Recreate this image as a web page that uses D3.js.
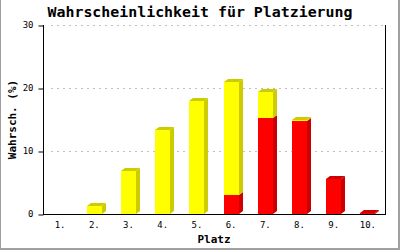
<!DOCTYPE html>
<html>
<head>
<meta charset="utf-8">
<script src="https://cdn.jsdelivr.net/npm/d3@7"></script>
<style>
  body { margin: 0; background: #fff; }
  svg { display: block; }
  text { font-family: "DejaVu Sans Mono", "Liberation Mono", monospace; }
</style>
</head>
<body>
<div id="graph"></div>
<script>
// data
var places = ["1.", "2.", "3.", "4.", "5.", "6.", "7.", "8.", "9.", "10."];
var red_values    = [0, 0, 0, 0, 0, 3.0, 15.2, 14.8, 5.6, 0.2];
var yellow_values = [0, 1.2, 6.9, 13.3, 17.9, 18.0, 4.2, 0.15, 0, 0];
var y_ticks = [0, 10, 20, 30];

function draw_function() {
    var width = 400, height = 250;
    var vis = d3.select("#graph")
        .append("svg")
        .attr("width", width).attr("height", height);

    // plot box
    var left = 43, right = 385, top = 25, bottom = 214;
    // 3d depth of the bars
    var dx = 4, dy = 3;
    var bar_w = 15;

    var x = d3.scaleBand().domain(places).range([left, right]);
    var y = d3.scaleLinear().domain([0, 30]).range([bottom, top]);

    // frame round the picture
    vis.append("line").attr("x1", 0.5).attr("x2", 0.5).attr("y1", 0).attr("y2", 250)
        .attr("stroke", "#a0a0a0");
    vis.append("rect").attr("x", 398).attr("y", 0).attr("width", 2).attr("height", 250)
        .attr("fill", "#a0a0a0");
    vis.append("rect").attr("x", 0).attr("y", 248).attr("width", 400).attr("height", 2)
        .attr("fill", "#a0a0a0");

    // grid lines
    vis.selectAll("line.grid")
        .data(y_ticks.filter(function(d) { return d > 0; }))
        .enter().append("line")
        .attr("class", "grid")
        .attr("x1", left + 8).attr("x2", right - 1)
        .attr("y1", function(d) { return y(d) + 0.5; })
        .attr("y2", function(d) { return y(d) + 0.5; })
        .attr("stroke", "#c0c0c0")
        .attr("stroke-dasharray", "2,4");

    // stacked segments
    var segs = [];
    places.forEach(function(p, i) {
        var r = red_values[i], yl = yellow_values[i];
        var top_one = yl > 0 ? "yellow" : "red";
        if (r > 0) segs.push({p: p, y0: 0, y1: r, front: "#ff0000", side: "#cc0000", is_top: top_one == "red"});
        if (yl > 0) segs.push({p: p, y0: r, y1: r + yl, front: "#ffff00", side: "#cccc00", is_top: true});
    });

    var g = vis.selectAll("g.seg").data(segs).enter().append("g").attr("class", "seg");
    g.each(function(d) {
        var sel = d3.select(this);
        var cx = x(d.p) + x.bandwidth() / 2;
        var x0 = Math.round(cx - bar_w / 2), x1 = x0 + bar_w;
        var yt = Math.round(y(d.y1)), yb = Math.round(y(d.y0));
        // right side
        sel.append("polygon")
            .attr("points", [[x1, yb], [x1 + dx, yb - dy], [x1 + dx, yt - dy], [x1, yt]].join(" "))
            .attr("fill", d.side);
        if (d.is_top) {
            sel.append("polygon")
                .attr("points", [[x0, yt], [x0 + dx, yt - dy], [x1 + dx, yt - dy], [x1, yt]].join(" "))
                .attr("fill", d.side);
        }
        sel.append("rect")
            .attr("x", x0).attr("y", yt)
            .attr("width", bar_w).attr("height", Math.max(0, yb - yt))
            .attr("fill", d.front);
    });

    // axes
    var yAxis = d3.axisLeft(y).tickValues(y_ticks).tickSize(5).tickPadding(5);
    var ya = vis.append("g").attr("transform", "translate(" + (left + 0.5) + ",0)").call(yAxis);
    ya.select(".domain").remove();
    ya.append("line").attr("x1", 0).attr("x2", 0).attr("y1", top).attr("y2", bottom + 1)
        .attr("stroke", "#000");
    ya.selectAll(".tick line").attr("stroke", "#000").attr("transform", "translate(0,0.5)");
    ya.selectAll(".tick text")
        .attr("font-family", "DejaVu Sans Mono").attr("font-size", 9).attr("fill", "#000");

    var xAxis = d3.axisBottom(x).tickSize(0).tickPadding(7);
    var xa = vis.append("g").attr("transform", "translate(0," + (bottom + 0.5) + ")").call(xAxis);
    xa.select(".domain").remove();
    xa.append("line").attr("x1", left).attr("x2", right + 1).attr("y1", 0).attr("y2", 0)
        .attr("stroke", "#000");
    xa.selectAll(".tick text")
        .attr("font-family", "DejaVu Sans Mono").attr("font-size", 9).attr("fill", "#000");

    // right edge of the plot box
    vis.append("line").attr("x1", right + 0.5).attr("x2", right + 0.5)
        .attr("y1", top).attr("y2", bottom + 1).attr("stroke", "#000");

    // title and axis names
    vis.append("text").attr("x", 200).attr("y", 17)
        .attr("text-anchor", "middle").attr("font-size", 14).attr("font-weight", "bold")
        .attr("textLength", 305).attr("lengthAdjust", "spacingAndGlyphs")
        .text("Wahrscheinlichkeit für Platzierung");
    vis.append("text").attr("x", (left + right) / 2).attr("y", 243)
        .attr("text-anchor", "middle").attr("font-size", 11).attr("font-weight", "bold")
        .text("Platz");
    vis.append("text")
        .attr("transform", "translate(16," + ((top + bottom) / 2) + ") rotate(-90)")
        .attr("text-anchor", "middle").attr("font-size", 11).attr("font-weight", "bold")
        .text("Wahrsch. (%)");
}

window.onload = draw_function;
</script>
</body>
</html>
